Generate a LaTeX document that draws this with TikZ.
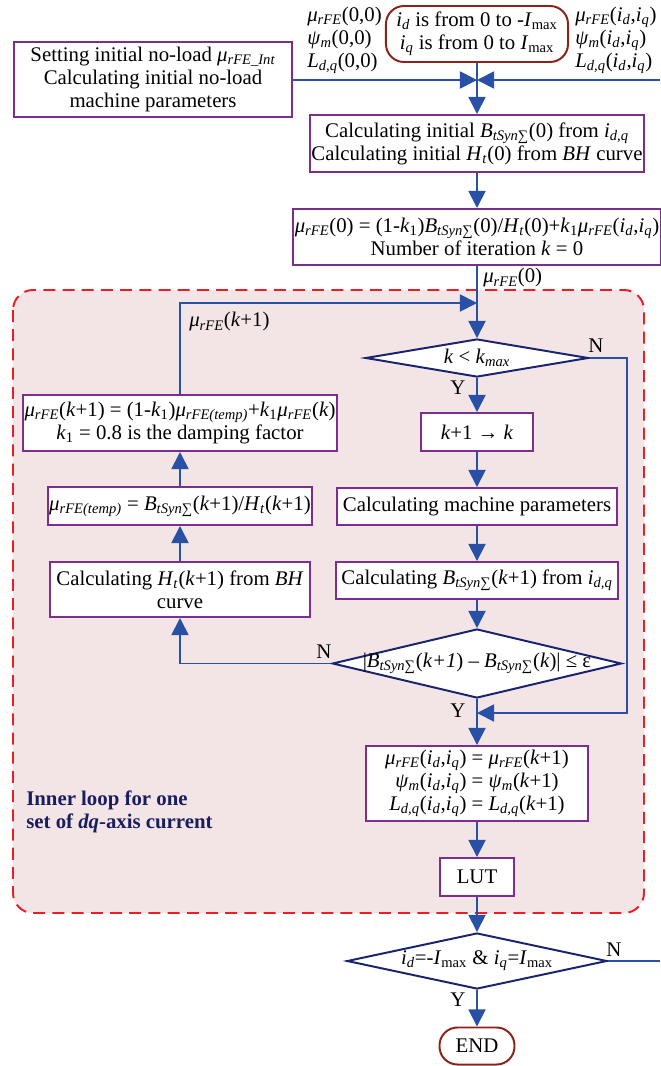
\documentclass[tikz,border=0pt]{standalone}
\usepackage{fontspec}
\setmainfont{Liberation Serif}
\usetikzlibrary{shapes.geometric, arrows.meta}

\definecolor{boxpurple}{RGB}{125,45,140}
\definecolor{decnavy}{RGB}{25,35,110}
\definecolor{linkblue}{RGB}{40,80,165}
\definecolor{termred}{RGB}{140,35,25}
\definecolor{dashred}{RGB}{235,30,40}
\definecolor{loopfill}{RGB}{243,228,230}
\definecolor{loopnavy}{RGB}{25,30,95}

\newcommand{\fvar}[2]{\textit{#1}\textsubscript{\textit{#2}}}
\newcommand{\mur}{\fvar{μ}{rFE}}
\newcommand{\bts}{\textit{B}\textsubscript{\textit{tSyn}∑}}

\begin{document}
\begin{tikzpicture}[x=0.025cm, y=-0.025cm,
    font=\fontsize{14.8}{16.3}\selectfont,
    proc/.style={draw=boxpurple, line width=1.4pt, fill=white, align=center, inner sep=1pt},
    cond/.style={diamond, draw=decnavy, line width=1.4pt, fill=white, inner sep=0pt},
    term/.style={draw=termred, line width=1.4pt, fill=white, rounded corners=0.45cm, align=center, inner sep=1pt},
    link/.style={draw=linkblue, line width=1.3pt},
    arr/.style={link, -{Triangle[length=0.43cm, width=0.43cm]}}]

    \useasboundingbox (0,0) rectangle (660,1066);

    % inner loop frame
    \draw[dashred, line width=1.4pt, dash pattern=on 0.3cm off 0.18cm, fill=loopfill, rounded corners=0.5cm] (13,290) rectangle (644,913);

    % start
    \node[proc, minimum width=6.95cm, minimum height=1.875cm] (setup) at (153,79.5)
        {Setting initial no-load \textit{μ}\textsubscript{\textit{rFE\_Int}}\\Calculating initial no-load\\machine parameters};
    \node[term, minimum width=4.55cm, minimum height=1.4cm] (range) at (477,34)
        {\fvar{i}{d} is from 0 to -\textit{I}\textsubscript{max}\\\fvar{i}{q} is from 0 to \textit{I}\textsubscript{max}};
    \node[anchor=west, align=left, inner sep=0pt] (lzero) at (307,40)
        {\mur(0,0)\\\fvar{ψ}{m}(0,0)\\\fvar{L}{d,q}(0,0)};
    \node[anchor=west, align=left, inner sep=0pt] (lcur) at (575,40)
        {\mur(\fvar{i}{d},\fvar{i}{q})\\\fvar{ψ}{m}(\fvar{i}{d},\fvar{i}{q})\\\fvar{L}{d,q}(\fvar{i}{d},\fvar{i}{q})};
    \coordinate (jn) at (477,80);
    \coordinate (rin) at (660,80);

    \node[proc, minimum width=8.25cm, minimum height=1.425cm] (binit) at (477,143.5)
        {Calculating initial \bts(0) from \fvar{i}{d,q}\\Calculating initial \fvar{H}{t}(0) from \textit{BH} curve};
    \node[proc, minimum width=8.925cm, minimum height=1.4cm] (mu0) at (477,237)
        {\mur(0) = (1-\textit{k}\textsubscript{1})\bts(0)/\fvar{H}{t}(0)+\textit{k}\textsubscript{1}\mur(\fvar{i}{d},\fvar{i}{q})\\Number of iteration \textit{k} = 0};
    \node[anchor=west, inner sep=0pt] (mu0lbl) at (483,278) {\mur(0)};

    % inner loop, right column
    \node[cond, minimum width=5.575cm, minimum height=0.95cm,
        label={center:\textit{k} < \fvar{k}{max}}] (kchk) at (477,358) {};
    \node[proc, minimum width=2.8cm, minimum height=0.95cm] (kinc) at (477,432) {\textit{k}+1 → \textit{k}};
    \node[proc, minimum width=7cm, minimum height=0.925cm] (mach) at (477,506.5) {Calculating machine parameters};
    \node[proc, minimum width=7.025cm, minimum height=0.925cm] (bcalc) at (477,580.5)
        {Calculating \bts(\textit{k}+1) from \fvar{i}{d,q}};
    \node[cond, minimum width=7.225cm, minimum height=1.725cm,
        label={center:|\bts(\textit{k+1}) – \bts(\textit{k})| ≤ ε}] (conv) at (477,663.5) {};

    % inner loop, left column
    \node[proc, minimum width=7.7cm, minimum height=1.4cm] (upd) at (180,423)
        {\mur(\textit{k}+1) = (1-\textit{k}\textsubscript{1})\fvar{μ}{rFE(temp)}+\textit{k}\textsubscript{1}\mur(\textit{k})\\\textit{k}\textsubscript{1} = 0.8 is the damping factor};
    \node[proc, minimum width=6.5cm, minimum height=0.95cm] (temp) at (180,506)
        {\fvar{μ}{rFE(temp)} = \bts(\textit{k}+1)/\fvar{H}{t}(\textit{k}+1)};
    \node[proc, minimum width=6.5cm, minimum height=1.375cm] (hcalc) at (180,589.5)
        {Calculating \fvar{H}{t}(\textit{k}+1) from \textit{BH}\\curve};
    \node[anchor=west, inner sep=0pt] (updlbl) at (189,322) {\mur(\textit{k}+1)};

    \node[proc, minimum width=5.55cm, minimum height=1.875cm] (res) at (477,783.5)
        {\mur(\fvar{i}{d},\fvar{i}{q}) = \mur(\textit{k}+1)\\\fvar{ψ}{m}(\fvar{i}{d},\fvar{i}{q}) = \fvar{ψ}{m}(\textit{k}+1)\\\fvar{L}{d,q}(\fvar{i}{d},\fvar{i}{q}) = \fvar{L}{d,q}(\textit{k}+1)};
    \node[proc, minimum width=1.85cm, minimum height=0.95cm] (lut) at (477,877) {LUT};
    \node[anchor=west, align=left, inner sep=0pt, text=loopnavy,
        font=\fontsize{14.8}{16.3}\selectfont\bfseries] (inner) at (26,811.5)
        {Inner loop for one\\set of \textit{dq}-axis current};

    % outer check
    \node[cond, minimum width=6.5cm, minimum height=1.4cm,
        label={center:\fvar{i}{d}=-\textit{I}\textsubscript{max} \& \fvar{i}{q}=\textit{I}\textsubscript{max}}] (dall) at (477,961) {};
    \node[term, minimum width=1.875cm, minimum height=0.925cm] (fin) at (477,1046) {END};

    \coordinate (ret) at (477,303);
    \coordinate (nright) at (627,713);
    \coordinate (ymerge) at (477,713);
    \coordinate (nout) at (660,961);

    % connectors
    \draw[arr] (setup.east |- jn) -- (jn);
    \draw[arr] (rin) -- (jn);
    \draw[arr] (range) -- (binit);
    \draw[arr] (binit) -- (mu0);
    \draw[arr] (mu0) -- (kchk);
    \draw[arr] (kchk) -- (kinc);
    \draw[arr] (kinc) -- (mach);
    \draw[arr] (mach) -- (bcalc);
    \draw[arr] (bcalc) -- (conv);
    \draw[arr] (conv.west) -| (hcalc.south);
    \draw[arr] (hcalc) -- (temp);
    \draw[arr] (temp) -- (upd);
    \draw[arr] (upd.north) |- (ret);
    \draw[arr] (kchk.east) -| (nright) -- (ymerge);
    \draw[arr] (conv) -- (res);
    \draw[arr] (res) -- (lut);
    \draw[arr] (lut) -- (dall);
    \draw[arr] (dall) -- (fin);
    \draw[link] (dall.east) -- (nout);

    \node (nk) at (596,346) {N};
    \node (yk) at (458,388) {Y};
    \node (nc) at (324,652) {N};
    \node (yc) at (458,711) {Y};
    \node (na) at (614,950) {N};
    \node (ya) at (458,1000) {Y};
\end{tikzpicture}
\end{document}
